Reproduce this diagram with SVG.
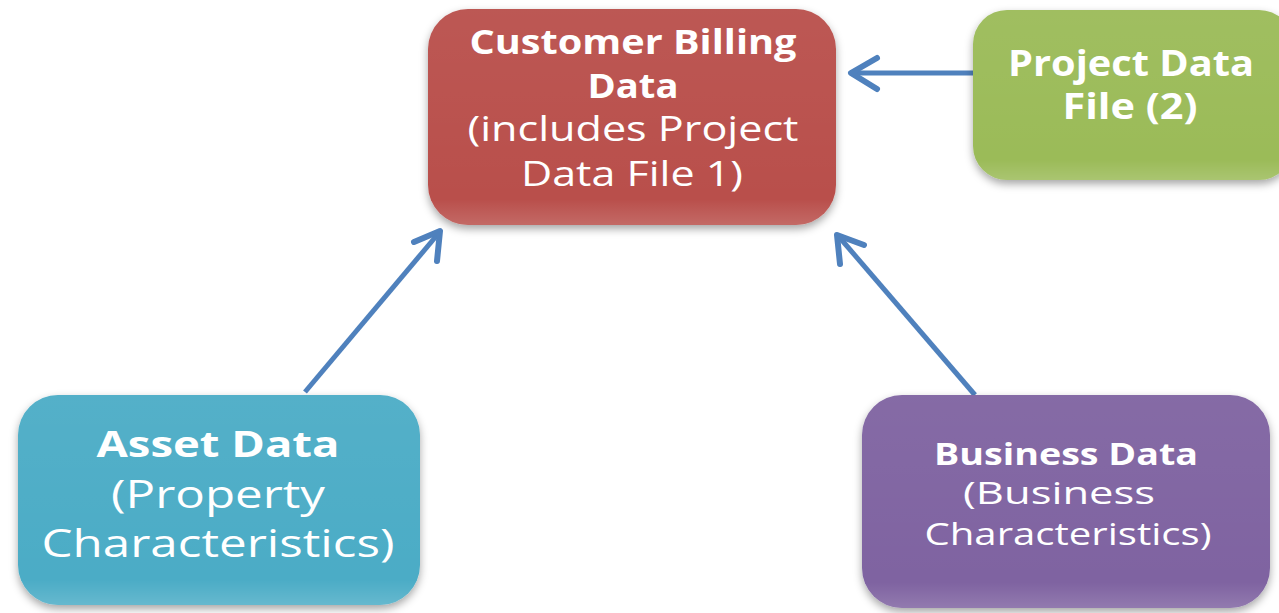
<svg xmlns="http://www.w3.org/2000/svg" width="1279" height="613" viewBox="0 0 1279 613">
<style>
.t{font-family:"Open Sans","Liberation Sans",sans-serif;fill:#ffffff;text-anchor:middle}
.b{font-weight:bold}
.c{stroke:#4f81bd;stroke-width:5;fill:none}
.h{stroke:#4f81bd;stroke-width:6;fill:none;stroke-linecap:round;stroke-linejoin:round}
</style>
<defs>
<filter id="sh" x="-10%" y="-10%" width="120%" height="130%">
<feDropShadow dx="0" dy="4" stdDeviation="4" flood-color="#000" flood-opacity="0.35"/>
</filter>
<linearGradient id="gl" x1="0" y1="0" x2="0" y2="1">
<stop offset="0" stop-color="#fff" stop-opacity="0.05"/>
<stop offset="0.88" stop-color="#fff" stop-opacity="0"/>
<stop offset="1" stop-color="#fff" stop-opacity="0.15"/>
</linearGradient>
</defs>
<rect width="1279" height="613" fill="#ffffff"/>
<g id="connectors">
<line class="c" x1="975" y1="73" x2="852" y2="73"/>
<polyline class="h" points="877,58 851,73 877,89"/>
<line class="c" x1="305" y1="392" x2="438" y2="234"/>
<polyline class="h" points="414,242 440,231 437,261"/>
<line class="c" x1="975" y1="395" x2="840" y2="238"/>
<polyline class="h" points="840,264 837,235 864,245"/>
</g>
<g id="billing">
<rect x="428" y="9" width="408" height="216" rx="40" fill="#b9504c" filter="url(#sh)"/>
<rect x="428" y="9" width="408" height="216" rx="40" fill="url(#gl)"/>
<text class="t b" x="633" y="54" font-size="34" textLength="327" lengthAdjust="spacingAndGlyphs">Customer Billing</text>
<text class="t b" x="633" y="98" font-size="34" textLength="91" lengthAdjust="spacingAndGlyphs">Data</text>
<text class="t" x="633" y="141" font-size="34" textLength="331" lengthAdjust="spacingAndGlyphs">(includes Project</text>
<text class="t" x="632" y="186" font-size="35" textLength="222" lengthAdjust="spacingAndGlyphs">Data File 1)</text>
</g>
<g id="project">
<rect x="973" y="10" width="320" height="170" rx="34" fill="#9bbb59" filter="url(#sh)"/>
<rect x="973" y="10" width="320" height="170" rx="34" fill="url(#gl)"/>
<text class="t b" x="1131" y="76" font-size="35" textLength="246" lengthAdjust="spacingAndGlyphs">Project Data</text>
<text class="t b" x="1130" y="119" font-size="35" textLength="135" lengthAdjust="spacingAndGlyphs">File (2)</text>
</g>
<g id="asset">
<rect x="18" y="395" width="402" height="210" rx="40" fill="#4bacc6" filter="url(#sh)"/>
<rect x="18" y="395" width="402" height="210" rx="40" fill="url(#gl)"/>
<text class="t b" x="218" y="457" font-size="36" textLength="243" lengthAdjust="spacingAndGlyphs">Asset Data</text>
<text class="t" x="218" y="508" font-size="38" textLength="214" lengthAdjust="spacingAndGlyphs">(Property</text>
<text class="t" x="218" y="557" font-size="38" textLength="353" lengthAdjust="spacingAndGlyphs">Characteristics)</text>
</g>
<g id="business">
<rect x="862" y="395" width="408" height="213" rx="40" fill="#7f63a1" filter="url(#sh)"/>
<rect x="862" y="395" width="408" height="213" rx="40" fill="url(#gl)"/>
<text class="t b" x="1066" y="465" font-size="30" textLength="264" lengthAdjust="spacingAndGlyphs">Business Data</text>
<text class="t" x="1059" y="504" font-size="31" textLength="192" lengthAdjust="spacingAndGlyphs">(Business</text>
<text class="t" x="1068" y="545" font-size="31" textLength="287" lengthAdjust="spacingAndGlyphs">Characteristics)</text>
</g>
</svg>
